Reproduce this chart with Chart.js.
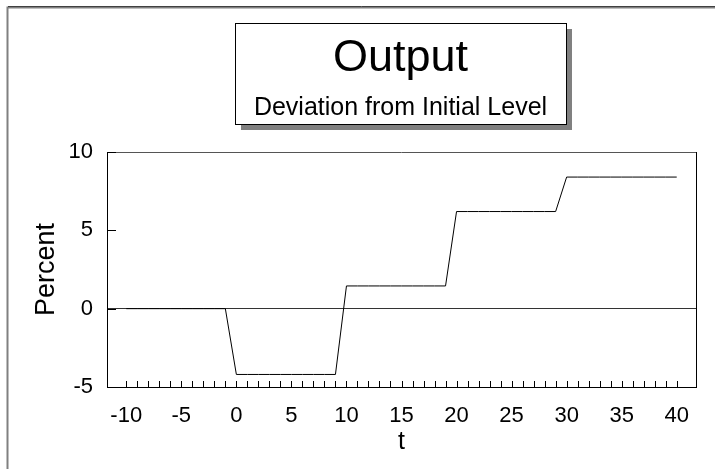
<!DOCTYPE html>
<html>
<head>
<meta charset="utf-8">
<script src="https://cdn.jsdelivr.net/npm/chart.js@4/dist/chart.umd.min.js"></script>
<style>
  html, body { margin: 0; padding: 0; background: #fff; }
  canvas { display: block; }
</style>
</head>
<body>
<canvas id="chart" width="715" height="469"></canvas>
<script>
const titleText = "Output"
const subtitleText = "Deviation from Initial Level"
const xTitle = "t"
const yTitle = "Percent"

const periods = [-10, -9, -8, -7, -6, -5, -4, -3, -2, -1,
  0, 1, 2, 3, 4, 5, 6, 7, 8, 9,
  10, 11, 12, 13, 14, 15, 16, 17, 18, 19,
  20, 21, 22, 23, 24, 25, 26, 27, 28, 29,
  30, 31, 32, 33, 34, 35, 36, 37, 38, 39, 40]
const output = [0, 0, 0, 0, 0, 0, 0, 0, 0, 0,
  -4.2, -4.2, -4.2, -4.2, -4.2, -4.2, -4.2, -4.2, -4.2, -4.2,
  1.45, 1.45, 1.45, 1.45, 1.45, 1.45, 1.45, 1.45, 1.45, 1.45,
  6.2, 6.2, 6.2, 6.2, 6.2, 6.2, 6.2, 6.2, 6.2, 6.2,
  8.4, 8.4, 8.4, 8.4, 8.4, 8.4, 8.4, 8.4, 8.4, 8.4, 8.4]
const xLabels = [-10, -5, 0, 5, 10, 15, 20, 25, 30, 35, 40]
const yTicks = [-5, 0, 5, 10]

const FONT = "'Liberation Sans', Arial, Helvetica, sans-serif"

// frame, title box, plot border and the little inward tick marks
const decorations = {
  id: "decorations",
  beforeDraw(chart) {
    const c = chart.ctx
    c.save()
    c.fillStyle = "#fff"
    c.fillRect(0, 0, chart.width, chart.height)
    // outer frame (only top & left show)
    c.strokeStyle = "#808080"
    c.lineWidth = 2
    c.beginPath()
    c.moveTo(7.5, chart.height)
    c.lineTo(7.5, 7.5)
    c.lineTo(chart.width, 7.5)
    c.stroke()
    c.strokeStyle = "#404040"
    c.lineWidth = 1
    c.beginPath()
    c.moveTo(8, 6.5)
    c.lineTo(chart.width, 6.5)
    c.stroke()

    // title box with shadow
    const bx = 235, by = 23, bw = 331, bh = 101
    c.fillStyle = "#808080"
    c.fillRect(bx + 6, by + 6, bw, bh)
    c.fillStyle = "#fff"
    c.fillRect(bx, by, bw, bh)
    c.strokeStyle = "#000"
    c.lineWidth = 1
    c.strokeRect(bx + 0.5, by + 0.5, bw, bh)
    c.fillStyle = "#000"
    c.textAlign = "center"
    c.textBaseline = "alphabetic"
    c.font = "45px " + FONT
    c.fillText(titleText, bx + bw / 2, 71)
    c.font = "25px " + FONT
    c.fillText(subtitleText, bx + bw / 2, 115)
    c.restore()
  },
  afterDatasetsDraw(chart) {
    const { ctx: c, chartArea: a, scales } = chart
    c.save()
    c.lineWidth = 1
    // top and right border
    c.strokeStyle = "#555"
    c.beginPath()
    c.moveTo(a.left, Math.round(a.top) + 0.5)
    c.lineTo(a.right, Math.round(a.top) + 0.5)
    c.stroke()
    c.strokeStyle = "#000"
    c.beginPath()
    c.moveTo(Math.round(a.right) + 0.5, a.top)
    c.lineTo(Math.round(a.right) + 0.5, a.bottom)
    c.stroke()
    // x minor ticks pointing up
    c.beginPath()
    scales.x.ticks.forEach(tk => {
      const px = Math.round(scales.x.getPixelForValue(tk.value)) + 0.5
      c.moveTo(px, a.bottom)
      c.lineTo(px, a.bottom - 6)
    })
    // y ticks pointing right
    scales.y.ticks.forEach(tk => {
      const py = Math.round(scales.y.getPixelForValue(tk.value)) + 0.5
      c.moveTo(a.left, py)
      c.lineTo(a.left + 9, py)
    })
    c.stroke()
    c.restore()
  }
}

new Chart(document.getElementById("chart"), {
  type: "line",
  data: {
    labels: periods,
    datasets: [{
      label: titleText,
      data: periods.map((p, i) => ({ x: p, y: output[i] })),
      borderColor: "#000",
      borderWidth: 1,
      pointRadius: 0,
      tension: 0
    }]
  },
  options: {
    responsive: false,
    animation: false,
    devicePixelRatio: 1,
    layout: { padding: { top: 152, right: 19, bottom: 0, left: 0 } },
    scales: {
      x: {
        type: "linear",
        min: -11.75,
        max: 41.75,
        afterBuildTicks: s => { s.ticks = periods.map(v => ({ value: v })) },
        afterFit: s => { s.height = 82 },
        ticks: {
          autoSkip: false,
          maxRotation: 0,
          padding: 16,
          color: "#000",
          font: { family: FONT, size: 22 },
          callback: v => xLabels.includes(v) ? String(v) : ""
        },
        grid: { drawOnChartArea: false, drawTicks: false },
        border: { color: "#000", width: 1 },
        title: { display: true, text: xTitle, color: "#000", font: { family: FONT, size: 25 }, padding: { top: 0, bottom: 12 } }
      },
      y: {
        min: -5,
        max: 10,
        afterBuildTicks: s => { s.ticks = yTicks.map(v => ({ value: v })) },
        afterFit: s => { s.width = 107 },
        ticks: {
          padding: 14,
          color: "#000",
          font: { family: FONT, size: 22 }
        },
        grid: {
          drawTicks: false,
          color: ctx => ctx.tick && ctx.tick.value === 0 ? "#333" : "rgba(0,0,0,0)"
        },
        border: { color: "#000", width: 1 },
        title: { display: true, text: yTitle, color: "#000", font: { family: FONT, size: 27 }, padding: { top: 30, bottom: 0 } }
      }
    },
    plugins: {
      legend: { display: false },
      tooltip: { enabled: false }
    }
  },
  plugins: [decorations]
})
</script>
</body>
</html>
